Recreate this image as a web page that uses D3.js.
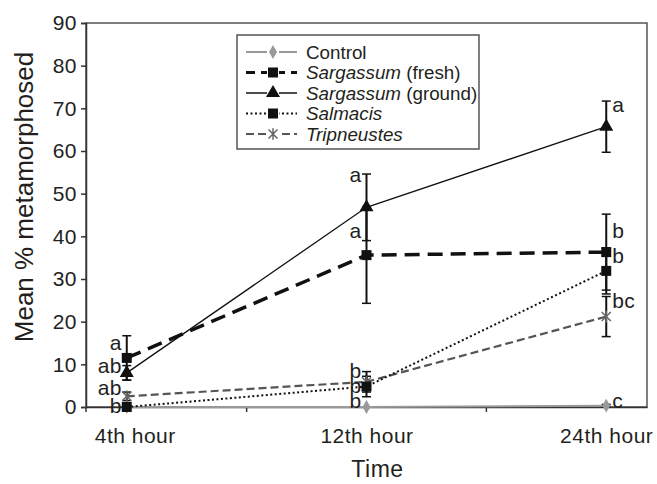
<!DOCTYPE html>
<html>
<head>
<meta charset="utf-8">
<title>Mean % metamorphosed</title>
<script src="https://d3js.org/d3.v7.min.js"></script>
<style>
body { margin: 0; background: #fff; font-family: "Liberation Sans", Arial, Helvetica, sans-serif; }
text { fill: #231f20; }
</style>
</head>
<body>
<script>
// data
const times = ["4th hour", "12th hour", "24th hour"];
const yTicks = [0, 10, 20, 30, 40, 50, 60, 70, 80, 90];

const control = [0, 0, 0.3];
const controlErr = [0, 0, 0.3];
const sargFresh = [11.5, 35.6, 36.3];
const sargFreshErr = [5.2, 11.3, 8.9];
const sargGround = [8.0, 46.8, 65.7];
const sargGroundErr = [1.7, 7.8, 6.0];
const salmacis = [0, 4.8, 31.9];
const salmacisErr = [0, 2.4, 5.4];
const tripneustes = [2.5, 5.9, 21.2];
const tripneustesErr = [1.0, 2.4, 4.7];

// significance letters per time point, with the value at which each sits
const letterText = [["a", "ab", "ab", "b"], ["a", "a", "b", "b", "b"], ["a", "b", "b", "bc", "c"]];
const letterAt = [[13.4, 8.0, 2.8, -1.4], [52.7, 39.6, 6.8, 3.3, -0.2], [69.1, 39.6, 33.7, 23.2, -0.2]];

const W = 657, H = 484;
const pL = 86, pR = 647, pT = 23, pB = 407;

const svg = d3.select("body").append("svg").attr("width", W).attr("height", H);

const x = d3.scalePoint().domain(times).range([pL, pR]).padding(0.17);
const y = d3.scaleLinear().domain([0, 90]).range([pB, pT]);

// frame
svg.append("rect").attr("x", pL).attr("y", pT).attr("width", pR - pL).attr("height", pB - pT)
  .attr("fill", "none").attr("stroke", "#555").attr("stroke-width", 1.5);

// y axis
const yAxis = svg.append("g").attr("transform", `translate(${pL},0)`)
  .call(d3.axisLeft(y).tickValues(yTicks).tickSize(5).tickPadding(4));
yAxis.select(".domain").attr("stroke", "#333").attr("stroke-width", 1.5);
yAxis.selectAll(".tick line").attr("stroke", "#333").attr("stroke-width", 1.5);
yAxis.selectAll("text").attr("font-size", 21).attr("letter-spacing", 0.5)
  .attr("font-family", "Liberation Sans, Arial, sans-serif").attr("fill", "#231f20");

// x axis: ticks between the categories
const step = x.step();
const xAxis = svg.append("g").attr("transform", `translate(0,${pB})`)
  .call(d3.axisBottom(x).tickSize(0).tickPadding(21));
xAxis.select(".domain").attr("stroke", "#333").attr("stroke-width", 1.5);
xAxis.selectAll("text").attr("font-size", 21).attr("letter-spacing", 0.5)
  .attr("font-family", "Liberation Sans, Arial, sans-serif").attr("fill", "#231f20")
  .attr("dx", (d, i) => i === 0 ? 8 : 0);
const mids = [pL].concat(times.slice(0, -1).map(t => x(t) + step / 2));
svg.selectAll(".xtick").data(mids).join("line").attr("class", "xtick")
  .attr("x1", d => d).attr("x2", d => d).attr("y1", pB).attr("y2", pB + 5)
  .attr("stroke", "#333").attr("stroke-width", 1.5);

// axis titles
svg.append("text").attr("transform", `translate(33,${(pT + pB) / 2 - 18}) rotate(-90)`)
  .attr("text-anchor", "middle").attr("font-size", 26).text("Mean % metamorphosed");
svg.append("text").attr("x", (pL + pR) / 2 + 11).attr("y", 477)
  .attr("text-anchor", "middle").attr("font-size", 23).attr("letter-spacing", 0.5).text("Time");

// series
const starPath = r => `M${-r},${-r}L${r},${r}M${-r},${r}L${r},${-r}M0,${-r * 1.3}L0,${r * 1.3}`;
const series = [
  { name: "Control", italic: "", rest: "Control", vals: control, err: controlErr, color: "#999", width: 2, dash: null, marker: "diamond", mcolor: "#999" },
  { name: "Tripneustes", italic: "Tripneustes", rest: "", vals: tripneustes, err: tripneustesErr, color: "#555", width: 2.2, dash: "8,4", marker: "star", mcolor: "#666" },
  { name: "Salmacis", italic: "Salmacis", rest: "", vals: salmacis, err: salmacisErr, color: "#111", width: 2, dash: "2,2.5", marker: "square", mcolor: "#111" },
  { name: "Sargassum (ground)", italic: "Sargassum", rest: " (ground)", vals: sargGround, err: sargGroundErr, color: "#111", width: 1.3, dash: null, marker: "triangle", mcolor: "#111" },
  { name: "Sargassum (fresh)", italic: "Sargassum", rest: " (fresh)", vals: sargFresh, err: sargFreshErr, color: "#111", width: 3.5, dash: "15,8", marker: "square", mcolor: "#111" }
];

function marker(sel, kind, color) {
  if (kind === "star") {
    sel.append("path").attr("d", starPath(4.5)).attr("fill", "none").attr("stroke", color).attr("stroke-width", 1.5);
  } else {
    const type = { diamond: d3.symbolDiamond, square: d3.symbolSquare, triangle: d3.symbolTriangle }[kind];
    const size = { diamond: 55, square: 100, triangle: 85 }[kind];
    sel.append("path").attr("d", d3.symbol().type(type).size(size)()).attr("fill", color);
  }
}

const line = d3.line().x((d, i) => x(times[i])).y(d => y(d));

// error bars first (behind markers)
series.forEach(s => {
  const g = svg.append("g");
  s.vals.forEach((v, i) => {
    if (!s.err[i]) return;
    const cx = x(times[i]), y1 = y(v + s.err[i]), y2 = y(Math.max(0, v - s.err[i]));
    g.append("line").attr("x1", cx).attr("x2", cx).attr("y1", y1).attr("y2", y2).attr("stroke", "#111").attr("stroke-width", 2);
    [v + s.err[i], v - s.err[i]].filter(e => e >= 0).forEach(e => {
      g.append("line").attr("x1", cx - 4.5).attr("x2", cx + 4.5).attr("y1", y(e)).attr("y2", y(e)).attr("stroke", "#111").attr("stroke-width", 1.5);
    });
  });
});

series.forEach(s => {
  svg.append("path").datum(s.vals).attr("d", line).attr("fill", "none")
    .attr("stroke", s.color).attr("stroke-width", s.width).attr("stroke-dasharray", s.dash);
  s.vals.forEach((v, i) => {
    const g = svg.append("g").attr("transform", `translate(${x(times[i])},${y(v)})`);
    marker(g, s.marker, s.mcolor);
  });
});

// letters
letterText.forEach((arr, i) => {
  const last = i === times.length - 1;
  arr.forEach((t, j) => {
    svg.append("text").attr("x", last ? x(times[i]) + 6 : x(times[i]) - 5).attr("y", y(letterAt[i][j]))
      .attr("text-anchor", last ? "start" : "end").attr("font-size", 21).attr("letter-spacing", 0.3).text(t);
  });
});

// legend
const lg = svg.append("g").attr("transform", "translate(237,35)");
lg.append("rect").attr("width", 242).attr("height", 114).attr("fill", "#fff").attr("stroke", "#555").attr("stroke-width", 1.5);
const legendOrder = ["Control", "Sargassum (fresh)", "Sargassum (ground)", "Salmacis", "Tripneustes"];
legendOrder.forEach((name, i) => {
  const s = series.find(d => d.name === name);
  const row = lg.append("g").attr("transform", `translate(0,${17 + i * 20.5})`);
  row.append("line").attr("x1", 9).attr("x2", 60).attr("y1", 0).attr("y2", 0)
    .attr("stroke", s.color).attr("stroke-width", Math.min(s.width, 3)).attr("stroke-dasharray", s.dash ? (s.width > 3 ? "9,6" : s.dash) : null);
  const m = row.append("g").attr("transform", "translate(36,0)");
  m.append("rect").attr("x", -6).attr("y", -4).attr("width", 12).attr("height", 8).attr("fill", "#fff");
  marker(m, s.marker, s.mcolor);
  const tx = row.append("text").attr("x", 69).attr("y", 6.5).attr("font-size", 18.8);
  if (s.italic) tx.append("tspan").attr("font-style", "italic").text(s.italic);
  if (s.rest) tx.append("tspan").text(s.rest);
});
</script>
</body>
</html>
